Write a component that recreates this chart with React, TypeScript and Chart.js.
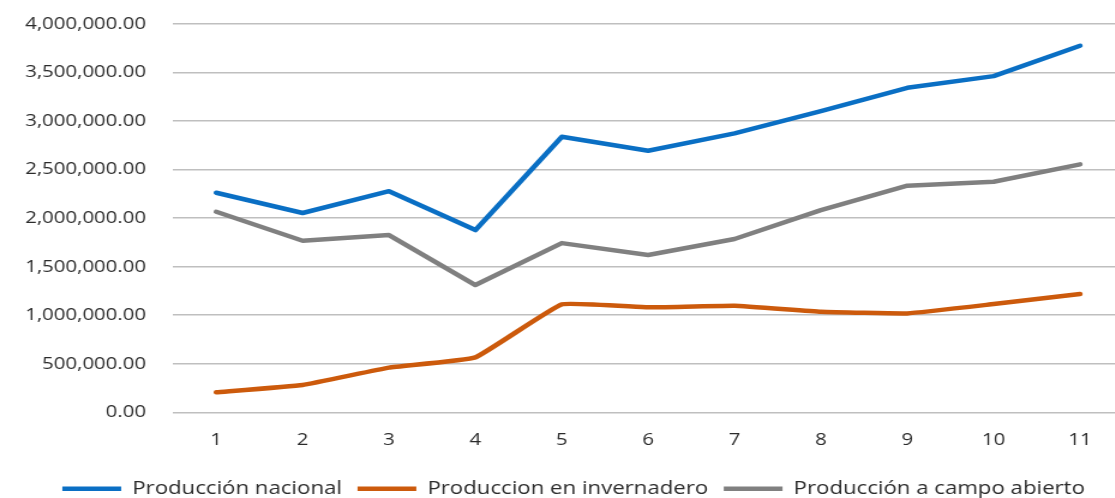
import React, { useEffect, useRef } from "react";
import { Chart, registerables } from "chart.js";

Chart.register(...registerables);

const categories = ["1", "2", "3", "4", "5", "6", "7", "8", "9", "10", "11"];
const produccionNacional = [2262000, 2053000, 2278000, 1877000, 2838000, 2694000, 2873000, 3103000, 3343000, 3463000, 3776000];
const produccionInvernadero = [206000, 281000, 460000, 566000, 1112000, 1081000, 1098000, 1036000, 1019000, 1115000, 1218000];
const produccionCampoAbierto = [2066000, 1767000, 1826000, 1311000, 1743000, 1620000, 1785000, 2083000, 2334000, 2375000, 2554000];
const seriesLabels = ["Producción nacional", "Produccion en invernadero", "Producción a campo abierto"];
const yMin = 0;
const yMax = 4000000;
const yStep = 500000;

// The reference is horizontally stretched; draw narrower and stretch with CSS.
const STRETCH = 1.2;
const INTERNAL_W = 940;
const INTERNAL_H = 508;

const legendShift = {
  id: "legendShift",
  afterLayout(chart: any) {
    const lg = chart.legend;
    if (lg) {
      lg.left += 8;
      lg.right += 8;
    }
  },
};

export default function App() {
  const ref = useRef<HTMLCanvasElement | null>(null);

  useEffect(() => {
    const canvas = ref.current;
    if (!canvas) return;
    const textColor = "#2b2b2b";
    const chart = new Chart(canvas, {
      type: "line",
      data: {
        labels: categories,
        datasets: [
          {
            label: seriesLabels[0],
            data: produccionNacional,
            borderColor: "#0A6FC4",
            backgroundColor: "#0A6FC4",
            borderWidth: 4.5,
            pointRadius: 0,
            tension: 0,
            borderCapStyle: "round",
            borderJoinStyle: "round",
          },
          {
            label: seriesLabels[1],
            data: produccionInvernadero,
            borderColor: "#CC5A0C",
            backgroundColor: "#CC5A0C",
            borderWidth: 4.5,
            pointRadius: 0,
            tension: 0.1,
            borderCapStyle: "round",
            borderJoinStyle: "round",
          },
          {
            label: seriesLabels[2],
            data: produccionCampoAbierto,
            borderColor: "#808080",
            backgroundColor: "#808080",
            borderWidth: 4.5,
            pointRadius: 0,
            tension: 0,
            borderCapStyle: "round",
            borderJoinStyle: "round",
          },
        ],
      },
      plugins: [legendShift],
      options: {
        responsive: false,
        animation: false,
        devicePixelRatio: 1,
        layout: { padding: { left: 4, right: 4, top: 24, bottom: 0 } },
        plugins: {
          tooltip: { enabled: false },
          legend: {
            position: "bottom",
            labels: {
              usePointStyle: true,
              pointStyle: "line",
              pointStyleWidth: 49,
              padding: 13,
              color: textColor,
              font: { family: "'Open Sans', sans-serif", size: 18.5 },
            },
          },
        },
        scales: {
          x: {
            offset: true,
            grid: { display: false, drawTicks: false },
            border: { display: false },
            ticks: {
              padding: 18,
              color: textColor,
              font: { family: "'Open Sans', sans-serif", size: 17 },
              maxRotation: 0,
            },
            afterFit: (scale: any) => {
              scale.height = 54.2;
            },
          },
          y: {
            min: yMin,
            max: yMax,
            grid: { color: "#BFBFBF", lineWidth: 1.6, drawTicks: false },
            border: { display: false },
            ticks: {
              stepSize: yStep,
              padding: 22.5,
              color: textColor,
              font: { family: "'Open Sans', sans-serif", size: 17 },
              callback: (v: any) =>
                Number(v).toLocaleString("en-US", { minimumFractionDigits: 2, maximumFractionDigits: 2 }),
            },
            afterFit: (scale: any) => {
              scale.width = 140.2;
              scale.paddingTop = 0;
              scale.paddingBottom = 0;
            },
          },
        },
      },
    });
    return () => chart.destroy();
  }, []);

  return (
    <div
      style={{
        position: "absolute",
        left: 0,
        top: 0,
        width: 1115,
        height: 498,
        overflow: "hidden",
        background: "#ffffff",
      }}
    >
      <canvas
        ref={ref}
        width={INTERNAL_W}
        height={INTERNAL_H}
        style={{ display: "block", width: INTERNAL_W * STRETCH, height: INTERNAL_H }}
      />
    </div>
  );
}
